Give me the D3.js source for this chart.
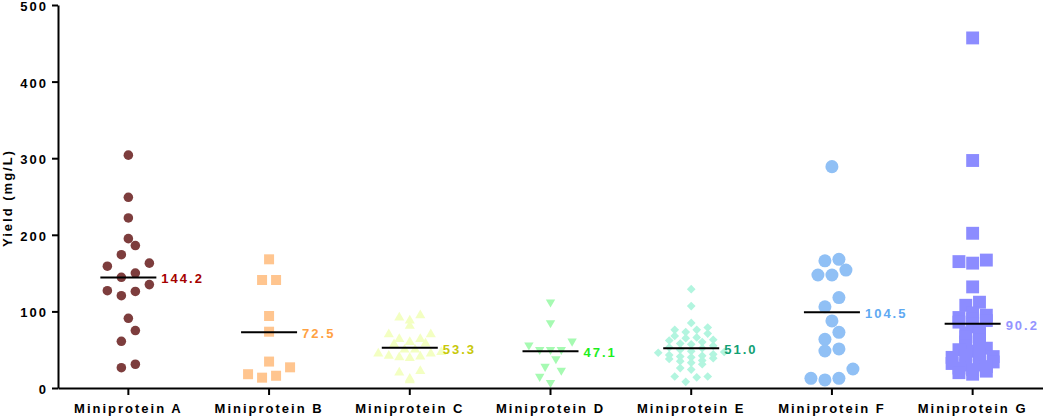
<!DOCTYPE html>
<html>
<head>
<meta charset="utf-8">
<script src="https://cdn.jsdelivr.net/npm/d3@7"></script>
<style>
  body { margin: 0; background: #fff; }
  text { font-family: "Liberation Sans", Arial, sans-serif; font-weight: bold; }
</style>
</head>
<body>
<div id="chart"></div>
<script>
// categories and yields (mg/L)
const categories = ["Miniprotein A", "Miniprotein B", "Miniprotein C", "Miniprotein D",
                    "Miniprotein E", "Miniprotein F", "Miniprotein G"];

const yieldA = [304, 249, 222, 195, 186, 174, 163, 159, 150, 144.5, 135, 127, 126, 120.5, 91, 75, 61, 31, 26.5];
const yieldB = [168, 141, 141, 94, 73.5, 34.5, 27, 18, 16, 13.5];
const yieldC = [95, 92, 88, 81, 70, 70, 64, 64, 58, 57, 60, 50, 50, 47, 45, 45, 42, 41, 40, 39, 22, 20, 12, 10];
const yieldD = [112, 85, 61, 56, 50, 50, 50, 38, 28, 23, 15, 7];
const yieldE = [129, 107, 85, 79, 76, 76, 73, 71, 68, 66, 65, 63, 62, 60, 58, 57, 55, 53, 52, 50,
                48, 47, 46, 44, 43, 42, 41, 40, 39, 38, 36, 35, 33, 31, 26, 24, 15, 15, 14, 8];
const yieldF = [289, 168, 166, 154, 147.5, 147.5, 118, 106, 87.5, 72.7, 63.5, 51, 48.3, 24.8, 12.6, 10.5, 12.6];
const yieldG = [457, 297, 202, 167, 165, 163, 132, 112, 108, 98, 95, 92, 90, 88, 86, 84, 80, 76, 72, 70,
                67, 63, 60, 58, 55, 52, 50, 48, 45, 43, 41, 40, 38, 36, 34, 32, 30, 30, 28, 26, 24, 22, 20, 18];

const meanLabels = ["144.2", "72.5", "53.3", "47.1", "51.0", "104.5", "90.2"];
const yTicks = [0, 100, 200, 300, 400, 500];

const seriesValues = [yieldA, yieldB, yieldC, yieldD, yieldE, yieldF, yieldG];

// look of each column: symbol, fill, label colour, swarm binning (in mg/L) and step (px)
const looks = [
  { sym: d3.symbolCircle,   size: 72,  rot: 0,   fill: "#7d3d3d", label: "#a50000", bin: 22, origin: 10.25, step: 14 },
  { sym: d3.symbolSquare,   size: 100, rot: 0,   fill: "#ffc58f", label: "#ffa142", bin: 22, origin: 10.25, step: 14 },
  { sym: d3.symbolTriangle, size: 44,  rot: 0,   fill: "#f3ffc2", label: "#c8c80a", bin: 12, origin: 0,     step: 10.5 },
  { sym: d3.symbolTriangle, size: 38,  rot: 180, fill: "#a6fab2", label: "#1eee1e", bin: 20, origin: 5,     step: 10.8 },
  { sym: d3.symbolSquare,   size: 38,  rot: 45,  fill: "#b2f5df", label: "#12a074", bin: 8,  origin: 0,     step: 11 },
  { sym: d3.symbolCircle,   size: 133, rot: 0,   fill: "#90c0f5", label: "#5ea9f2", bin: 22, origin: 10.25, step: 14 },
  { sym: d3.symbolSquare,   size: 166, rot: 0,   fill: "#8c8cff", label: "#9494ff", bin: 6,  origin: 0,     step: 13.7 }
];

const width = 1043, height = 416;

const svg = d3.select("#chart").append("svg")
    .attr("width", width)
    .attr("height", height);

const y = d3.scaleLinear().domain([0, 500]).range([388, 5]);
const x = d3.scaleBand().domain(categories).range([58, 1043]);

// prism style scatter: bin by value, lowest in the middle, spreading out
function swarm(values, look) {
  const bins = d3.group(values, v => Math.floor((v - look.origin) / look.bin));
  const out = [];
  for (const [, vals] of bins) {
    const sorted = vals.slice().sort((a, b) => a - b);
    const n = sorted.length;
    sorted.forEach((v, i) => {
      let k;
      if (n % 2) k = i === 0 ? 0 : Math.ceil(i / 2) * (i % 2 ? -1 : 1);
      else k = (Math.floor(i / 2) + 0.5) * (i % 2 ? 1 : -1);
      out.push({ v, dx: k * look.step });
    });
  }
  return out;
}

// points
categories.forEach((cat, ci) => {
  const look = looks[ci];
  const cx = x(cat) + x.bandwidth() / 2;
  const sym = d3.symbol().type(look.sym).size(look.size)();
  svg.append("g")
    .selectAll("path")
    .data(swarm(seriesValues[ci], look))
    .join("path")
    .attr("d", sym)
    .attr("transform", d => `translate(${cx + d.dx},${y(d.v)}) rotate(${look.rot})`)
    .attr("fill", look.fill);
});

// mean lines + labels
categories.forEach((cat, ci) => {
  const cx = x(cat) + x.bandwidth() / 2;
  const my = y(d3.mean(seriesValues[ci]));
  svg.append("line")
    .attr("x1", cx - 28).attr("x2", cx + 28)
    .attr("y1", my).attr("y2", my)
    .attr("stroke", "#000").attr("stroke-width", 2);
  svg.append("text")
    .attr("x", cx + 33)
    .attr("y", my)
    .attr("dy", "0.45em")
    .attr("fill", looks[ci].label)
    .style("font-size", "13px")
    .style("letter-spacing", "2px")
    .text(meanLabels[ci]);
});

// axes
const yAxis = svg.append("g")
    .attr("transform", "translate(58,0)")
    .call(d3.axisLeft(y).tickValues(yTicks).tickSize(6).tickSizeOuter(0).tickPadding(4));

const xAxis = svg.append("g")
    .attr("transform", "translate(0,388)")
    .call(d3.axisBottom(x).tickSize(7).tickSizeOuter(0).tickPadding(9));

[yAxis, xAxis].forEach(g => {
  g.select(".domain").attr("stroke-width", 2);
  g.selectAll(".tick line").attr("stroke-width", 2);
  g.selectAll("text")
    .attr("fill", "#000")
    .style("font-size", "13px")
    .style("font-weight", "bold")
    .style("letter-spacing", "2px");
});
yAxis.selectAll(".tick text").attr("dy", "0.42em");

svg.append("text")
    .attr("transform", "translate(12,198) rotate(-90)")
    .attr("text-anchor", "middle")
    .style("font-size", "13px")
    .style("letter-spacing", "2px")
    .text("Yield (mg/L)");
</script>
</body>
</html>
